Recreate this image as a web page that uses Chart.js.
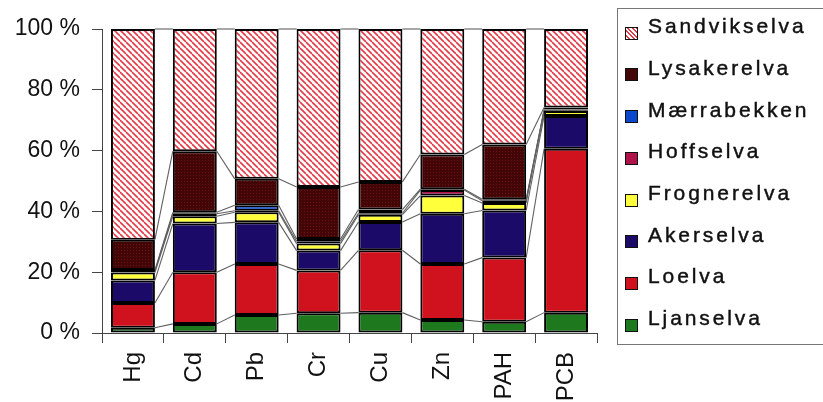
<!DOCTYPE html>
<html>
<head>
<meta charset="utf-8">
<script src="https://cdn.jsdelivr.net/npm/chart.js@4/dist/chart.umd.min.js"></script>
<style>
  html, body { margin: 0; padding: 0; background: #fff; overflow: hidden; }
  #wrap { position: relative; width: 823px; height: 402px; }
  #c { position: absolute; left: 0; top: 0; }
  #legend { position: absolute; left: 617px; top: 8px; width: 215px; height: 337px;
            border: 1px solid #777; box-sizing: border-box; font-family: "Liberation Sans", Arial, sans-serif; }
  .item { position: absolute; left: 30px; font-size: 21px; line-height: 21px; letter-spacing: 2.9px; color: #111;
          -webkit-text-stroke: 0.45px #111; white-space: nowrap; }
  .sw { position: absolute; left: 7px; width: 13px; height: 13px; border: 1px solid #111; box-sizing: border-box; }
</style>
</head>
<body>
<div id="wrap">
  <canvas id="c" width="823" height="402"></canvas>
  <div id="legend"></div>
</div>
<script>
// ---- data ----
const categories = ["Hg", "Cd", "Pb", "Cr", "Cu", "Zn", "PAH", "PCB"];
const yTicks = [0, 20, 40, 60, 80, 100];

const ljanselva    = [1.7, 3.0, 5.9, 6.5, 6.7, 4.3, 3.7, 6.7];
const loelva       = [8.2, 17.0, 16.8, 14.1, 20.5, 18.4, 21.1, 53.9];
const akerselva    = [7.4, 16.0, 13.7, 6.5, 9.3, 16.5, 15.5, 10.8];
const frognerelva  = [2.6, 2.4, 3.3, 2.3, 2.4, 6.0, 2.5, 1.6];
const hoffselva    = [0.5, 0.8, 0.5, 0.8, 0.5, 1.8, 0.7, 0.3];
const maerrabekken = [0.3, 0.5, 1.8, 0.7, 1.2, 0.3, 0.5, 0.2];
const lysakerelva  = [10.0, 20.1, 8.7, 17.1, 9.1, 11.4, 18.0, 0.7];
const sandvikselva = [69.3, 40.2, 49.3, 52.0, 50.3, 41.3, 38.0, 25.8];

const seriesNames = ["Ljanselva", "Loelva", "Akerselva", "Frognerelva", "Hoffselva", "Mærrabekken", "Lysakerelva", "Sandvikselva"];
const seriesData = [ljanselva, loelva, akerselva, frognerelva, hoffselva, maerrabekken, lysakerelva, sandvikselva];

// ---- styles ----
function hatchPattern() {
  const s = 6, cv = document.createElement('canvas');
  cv.width = s; cv.height = s;
  const g = cv.getContext('2d');
  g.fillStyle = '#fff'; g.fillRect(0, 0, s, s);
  g.strokeStyle = '#e43a48'; g.lineWidth = 1.6;
  for (const x0 of [-s, 0, s]) { g.beginPath(); g.moveTo(x0, 0); g.lineTo(x0 + s, s); g.stroke(); }
  return g.createPattern(cv, 'repeat');
}
function dotPattern() {
  const s = 3, cv = document.createElement('canvas');
  cv.width = s; cv.height = s;
  const g = cv.getContext('2d');
  g.fillStyle = '#420606'; g.fillRect(0, 0, s, s);
  g.fillStyle = '#6a1010'; g.fillRect(1, 1, 1, 1);
  return g.createPattern(cv, 'repeat');
}
const fills = ['#1e781e', '#d0121e', '#1c0a68', '#ffff3c', '#b0124a', '#0c48cc', dotPattern(), hatchPattern()];
const swatchCss = ['#1e781e', '#d0121e', '#1c0a68', '#ffff3c', '#b0124a', '#0c48cc', '#430707',
  'repeating-linear-gradient(45deg, #fff 0 1.8px, #e43a48 1.8px 3.2px)'];

// ---- legend (HTML) ----
const leg = document.getElementById('legend');
for (let k = 0; k < 8; k++) {
  const idx = 7 - k;
  const top = 6.2 + 41.7 * k;
  const t = document.createElement('div');
  t.className = 'item'; t.style.top = top + 'px'; t.textContent = seriesNames[idx];
  const sw = document.createElement('div');
  sw.className = 'sw'; sw.style.top = (top + 11.5) + 'px'; sw.style.background = swatchCss[idx];
  leg.appendChild(sw); leg.appendChild(t);
}

// ---- series lines plugin ----
const seriesLines = {
  id: 'seriesLines',
  beforeDatasetsDraw(chart) {
    const ctx = chart.ctx;
    ctx.save();
    ctx.strokeStyle = '#606060';
    ctx.lineWidth = 1.1;
    chart.data.datasets.forEach((ds, d) => {
      const meta = chart.getDatasetMeta(d);
      for (let i = 0; i < meta.data.length - 1; i++) {
        const a = meta.data[i], b = meta.data[i + 1];
        ctx.beginPath();
        ctx.moveTo(a.x + a.width / 2, a.y);
        ctx.lineTo(b.x - b.width / 2, b.y);
        ctx.stroke();
      }
    });
    ctx.restore();
  }
};

const FONT = "'Liberation Sans', Arial, sans-serif";
new Chart(document.getElementById('c'), {
  type: 'bar',
  data: {
    labels: categories,
    datasets: seriesData.map((arr, k) => ({
      label: seriesNames[k],
      data: arr,
      backgroundColor: fills[k],
      borderColor: '#000',
      borderWidth: 2,
      borderSkipped: false,
      categoryPercentage: 1.0,
      barPercentage: 0.71
    }))
  },
  options: {
    responsive: false,
    devicePixelRatio: 1,
    animation: false,
    layout: { padding: { left: 0, right: 226, top: 29, bottom: 0 } },
    plugins: { legend: { display: false }, tooltip: { enabled: false } },
    scales: {
      x: {
        stacked: true,
        grid: { offset: true, drawOnChartArea: false, drawTicks: true, tickLength: 10, color: '#444' },
        border: { display: true, color: '#444', width: 1 },
        ticks: { minRotation: 90, maxRotation: 90, padding: 9, color: '#111', font: { family: FONT, size: 24 } },
        afterFit(scale) { scale.height = 69; }
      },
      y: {
        stacked: true,
        min: 0, max: 100,
        afterBuildTicks(scale) { scale.ticks = yTicks.map(v => ({ value: v })); },
        grid: { drawOnChartArea: false, drawTicks: true, tickLength: 10, color: '#444' },
        border: { display: true, color: '#444', width: 1 },
        ticks: { padding: 12, color: '#111', font: { family: FONT, size: 23 }, callback: v => v + ' %' },
        afterFit(scale) { scale.width = 102; }
      }
    }
  },
  plugins: [seriesLines]
});
</script>
</body>
</html>
